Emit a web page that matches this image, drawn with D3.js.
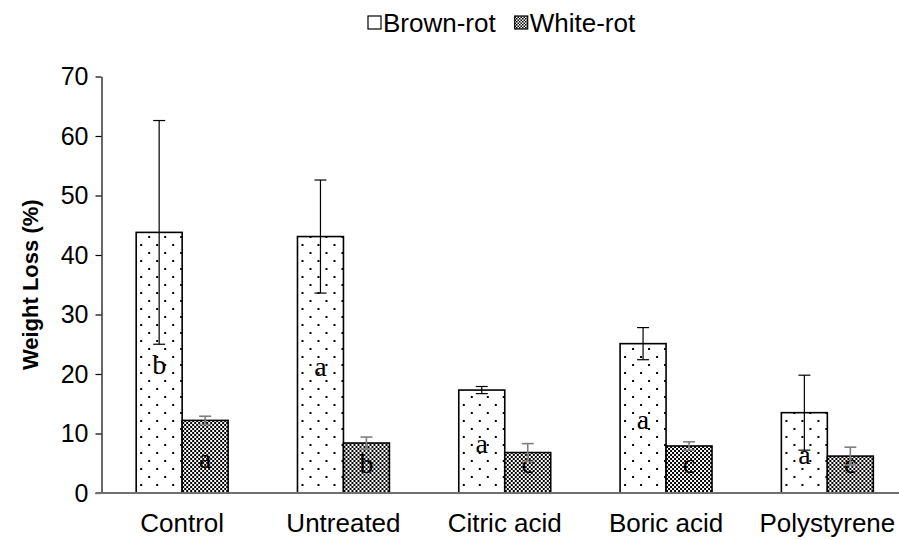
<!DOCTYPE html>
<html>
<head>
<meta charset="utf-8">
<script src="https://cdn.jsdelivr.net/npm/d3@7"></script>
<style>
  html, body { margin: 0; padding: 0; background: #fff; }
  svg { display: block; }
</style>
</head>
<body>
<svg id="chart" width="899" height="540"></svg>
<script>
// ---- data ----
const categories = ["Control", "Untreated", "Citric acid", "Boric acid", "Polystyrene"];
const seriesNames = ["Brown-rot", "White-rot"];
const brownRot = [43.8, 43.1, 17.3, 25.1, 13.5];
const brownRotErr = [18.8, 9.5, 0.6, 2.7, 6.3];
const whiteRot = [12.2, 8.4, 6.8, 7.9, 6.2];
const whiteRotErr = [0.7, 1.0, 1.5, 0.7, 1.5];
const brownLetters = ["b", "a", "a", "a", "a"];
const whiteLetters = ["a", "b", "c", "c", "c"];
const yTicks = [0, 10, 20, 30, 40, 50, 60, 70];
const yLabel = "Weight Loss (%)";

(function () {
const svg = d3.select("#chart");
const W = 899, H = 540;
const mLeft = 101.5, mRight = 908, mTop = 76.5, mBottom = 493;
const sans = "Arial, 'Liberation Sans', sans-serif";

// patterns
const defs = svg.append("defs");
const dots = defs.append("pattern").attr("id", "dots")
  .attr("patternUnits", "userSpaceOnUse").attr("width", 16).attr("height", 16);
dots.append("rect").attr("width", 16).attr("height", 16).attr("fill", "#fff");
dots.append("rect").attr("x", 4).attr("y", 4).attr("width", 2).attr("height", 2).attr("fill", "#000");
dots.append("rect").attr("x", 12).attr("y", 12).attr("width", 2).attr("height", 2).attr("fill", "#000");
const checker = defs.append("pattern").attr("id", "checker")
  .attr("patternUnits", "userSpaceOnUse").attr("width", 4).attr("height", 4);
checker.append("rect").attr("width", 4).attr("height", 4).attr("fill", "#fff");
checker.append("rect").attr("x", 0).attr("y", 0).attr("width", 2).attr("height", 2).attr("fill", "#000");
checker.append("rect").attr("x", 2).attr("y", 2).attr("width", 2).attr("height", 2).attr("fill", "#000");
const checkerSmall = defs.append("pattern").attr("id", "checkerSmall")
  .attr("patternUnits", "userSpaceOnUse").attr("width", 3).attr("height", 3);
checkerSmall.append("rect").attr("width", 3).attr("height", 3).attr("fill", "#fff");
checkerSmall.append("rect").attr("width", 1.5).attr("height", 1.5).attr("fill", "#000");
checkerSmall.append("rect").attr("x", 1.5).attr("y", 1.5).attr("width", 1.5).attr("height", 1.5).attr("fill", "#000");

const fills = ["url(#dots)", "url(#checker)"];
const errColors = ["#000", "#7f7f7f"];
const errWidths = [1.2, 1.6];

// scales
const x = d3.scaleBand().domain(categories).range([mLeft, mRight]).paddingInner(0.43).paddingOuter(0.215);
const xi = d3.scaleBand().domain(seriesNames).range([0, x.bandwidth()]);
const y = d3.scaleLinear().domain([0, 70]).range([mBottom, mTop]);

const rows = categories.map((c, i) => ({
  cat: c,
  vals: [
    { s: seriesNames[0], si: 0, v: brownRot[i], e: brownRotErr[i], l: brownLetters[i] },
    { s: seriesNames[1], si: 1, v: whiteRot[i], e: whiteRotErr[i], l: whiteLetters[i] }
  ]
}));

// y axis
const yAxis = svg.append("g").attr("transform", `translate(${mLeft},0)`)
  .call(d3.axisLeft(y).tickValues(yTicks).tickSize(6).tickPadding(7).tickSizeOuter(0));
yAxis.select(".domain").attr("stroke", "#000").attr("stroke-width", 1.2);
yAxis.selectAll(".tick line").attr("stroke", "#000").attr("stroke-width", 1.2);
yAxis.selectAll(".tick text").attr("font-family", sans)
  .attr("font-size", 25).attr("fill", "#000");

// y label
svg.append("text")
  .attr("transform", `translate(38,${(mTop + mBottom) / 2}) rotate(-90)`)
  .attr("text-anchor", "middle")
  .attr("font-family", sans)
  .attr("font-weight", "bold").attr("font-size", 22).attr("fill", "#000")
  .text(yLabel);

// bars
const groups = svg.append("g").selectAll("g").data(rows).join("g")
  .attr("transform", d => `translate(${x(d.cat)},0)`);

groups.selectAll("rect").data(d => d.vals).join("rect")
  .attr("x", d => xi(d.s))
  .attr("y", d => y(d.v))
  .attr("width", xi.bandwidth())
  .attr("height", d => y(0) - y(d.v))
  .attr("fill", d => fills[d.si])
  .attr("stroke", "#000").attr("stroke-width", 1.6);

// letters
groups.selectAll("text.lbl").data(d => d.vals).join("text").attr("class", "lbl")
  .attr("x", d => xi(d.s) + xi.bandwidth() / 2)
  .attr("y", d => Math.min(y(d.v / 2) + 11, y(0) - 20))
  .attr("text-anchor", "middle")
  .attr("font-family", "'Times New Roman', 'Liberation Serif', serif")
  .attr("font-size", 28).attr("fill", "#000")
  .text(d => d.l);

// error bars
const eb = groups.selectAll("g.err").data(d => d.vals).join("g").attr("class", "err")
  .attr("stroke", d => errColors[d.si]).attr("stroke-width", d => errWidths[d.si]);
const cx = d => xi(d.s) + xi.bandwidth() / 2;
eb.append("line").attr("x1", cx).attr("x2", cx)
  .attr("y1", d => y(d.v + d.e)).attr("y2", d => y(d.v - d.e));
eb.append("line").attr("x1", d => cx(d) - 6).attr("x2", d => cx(d) + 6)
  .attr("y1", d => y(d.v + d.e)).attr("y2", d => y(d.v + d.e));
eb.append("line").attr("x1", d => cx(d) - 6).attr("x2", d => cx(d) + 6)
  .attr("y1", d => y(d.v - d.e)).attr("y2", d => y(d.v - d.e));

// x axis
const xAxis = svg.append("g").attr("transform", `translate(0,${mBottom})`)
  .call(d3.axisBottom(x).tickSize(0).tickPadding(21));
xAxis.select(".domain").attr("d", `M${mLeft - 6},0H${W}`).attr("stroke", "#707070").attr("stroke-width", 2);
xAxis.selectAll(".tick text").attr("font-family", sans)
  .attr("font-size", 26).attr("fill", "#000");

// legend
const legend = svg.append("g");
const legendFills = ["#fff", "url(#checkerSmall)"];
let lx = 368;
seriesNames.forEach((name, i) => {
  legend.append("rect").attr("x", lx).attr("y", 16).attr("width", 13).attr("height", 13)
    .attr("fill", legendFills[i])
    .attr("stroke", "#000").attr("stroke-width", 1.2);
  const t = legend.append("text").attr("x", lx + 15).attr("y", 32)
    .attr("font-family", sans)
    .attr("font-size", 26).attr("fill", "#000").text(name);
  lx = lx + 15 + t.node().getComputedTextLength() + 19;
});
})();
</script>
</body>
</html>
